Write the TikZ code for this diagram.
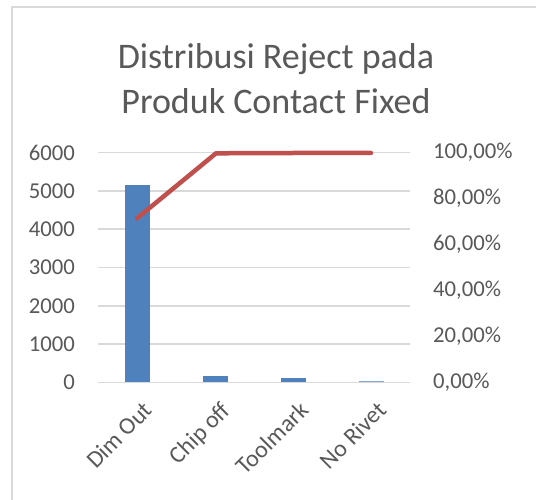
\documentclass[tikz,border=0pt]{standalone}
\usepackage{fontspec}
\setmainfont{Carlito}
\definecolor{txt}{HTML}{595959}
\definecolor{gridc}{HTML}{D9D9D9}
\definecolor{barc}{HTML}{4F81BD}
\definecolor{linec}{HTML}{C0504D}
\begin{document}
\begin{tikzpicture}[x=1pt,y=-1pt,
  lab/.style={text=txt,font=\fontsize{22.7}{26}\selectfont,inner sep=0pt},
  cat/.style={text=txt,font=\fontsize{24}{28}\selectfont,inner sep=0pt,anchor=north east,rotate=45},
  ttl/.style={text=txt,font=\fontsize{36}{45}\selectfont,inner sep=0pt,anchor=base},
  gridline/.style={draw=gridc,line width=1.5pt},
  cum/.style={draw=linec,line width=4.5pt,line cap=round,line join=round}]
\useasboundingbox (0,0) rectangle (536,500);
\fill[white] (0,0) rectangle (536,500);
\draw[gridc,line width=2pt] (12,500) -- (12,7) -- (536,7);
% title
\node[ttl] (t1) at (276,68.3) {Distribusi Reject pada};
\node[ttl] (t2) at (276,113.3) {Produk Contact Fixed};
% grid and left labels
\foreach \v [count=\i from 0] in {0,1000,2000,3000,4000,5000,6000}{
  \draw[gridline] (98,382.3-38.27*\i) -- (410,382.3-38.27*\i);
  \node[lab,anchor=east] (yl\i) at (75,382.3-38.27*\i) {\v};
}
% right labels
\node[lab,anchor=west] (yr0) at (433,382.3) {0,00\%};
\node[lab,anchor=west] (yr1) at (433,336.4) {20,00\%};
\node[lab,anchor=west] (yr2) at (433,290.5) {40,00\%};
\node[lab,anchor=west] (yr3) at (433,244.5) {60,00\%};
\node[lab,anchor=west] (yr4) at (433,198.6) {80,00\%};
\node[lab,anchor=west] (yr5) at (433,152.7) {100,00\%};
% bars
\fill[barc] (124.5,382.3) rectangle (149.5,185);
\fill[barc] (202.5,382.3) rectangle (227.5,376);
\fill[barc] (280.5,382.3) rectangle (305.5,378);
\fill[barc!70] (358.5,382.3) rectangle (383.5,380.7);
% cumulative line
\coordinate (c1) at (137,218.3);
\coordinate (c2) at (216,153.3);
\coordinate (c3) at (293,153);
\coordinate (c4) at (371,153);
\draw[cum] (c1) -- (c2) -- (c3) -- (c4);
% category labels
\node[cat] (x1) at (142,400) {Dim Out};
\node[cat] (x2) at (220,400) {Chip off};
\node[cat] (x3) at (298,400) {Toolmark};
\node[cat] (x4) at (376,400) {No Rivet};
\end{tikzpicture}
\end{document}
